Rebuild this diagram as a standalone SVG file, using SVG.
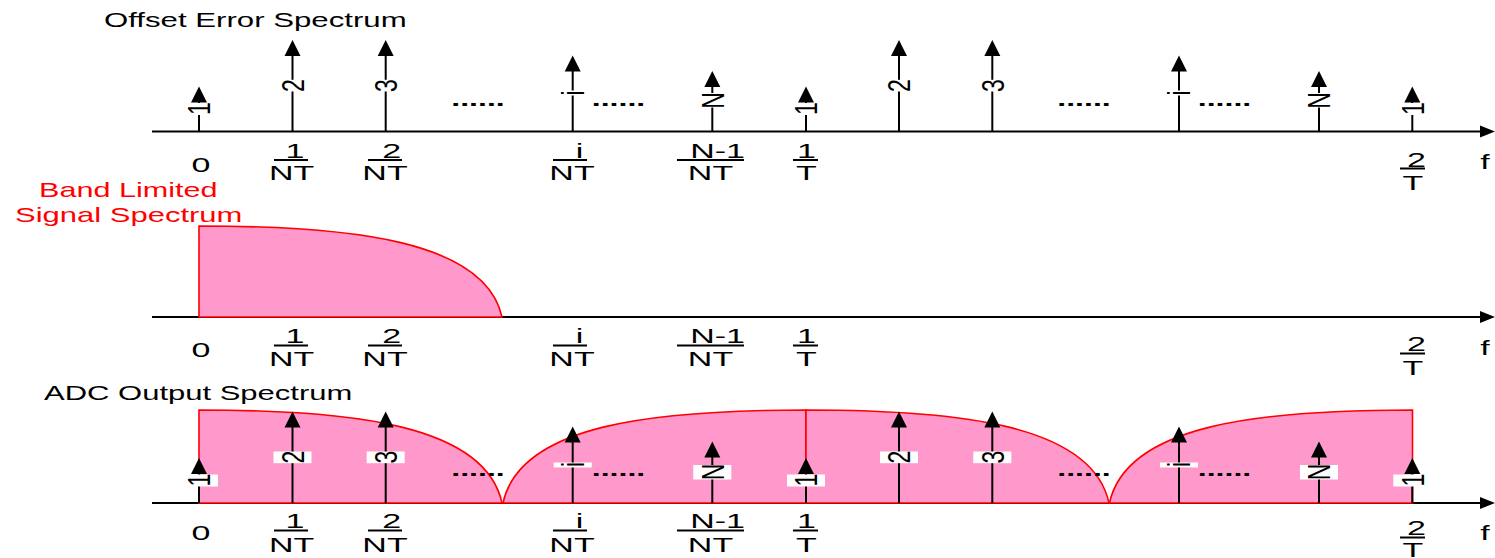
<svg xmlns="http://www.w3.org/2000/svg" width="1495" height="558" viewBox="0 0 1495 558">
<style>
text{font-family:"Liberation Sans",Arial,sans-serif;font-size:20px;fill:#000}
.t{text-anchor:start}
.red{fill:#ff0000}
.c{text-anchor:middle}
.dots{text-anchor:middle;font-weight:bold}
.ax{stroke:#000;stroke-width:2;fill:none}
.stem{stroke:#000;stroke-width:2;fill:none}
.bar{stroke:#000;stroke-width:2}
.band{fill:#ff99cc;stroke:#ff0000;stroke-width:1.6}
.box{fill:#fff}
.rl{font-size:23px;text-anchor:middle}
</style>
<defs>
<path id="ah" d="M0,0 L-8,16 L8,16 Z" fill="#000"/>
<path id="axh" d="M0,0 L-15,-6 L-15,6 Z" fill="#000"/>
</defs>
<rect width="1495" height="558" fill="#fff"/>

<!-- Titles -->
<g id="title1"><text class="t" transform="translate(104,27) scale(1.56,1)">Offset Error Spectrum</text></g>
<g id="title2">
<text class="t red" transform="translate(39,196.5) scale(1.53,1)">Band Limited</text>
<text class="t red" transform="translate(15,221.5) scale(1.55,1)">Signal Spectrum</text>
</g>
<g id="title3"><text class="t" transform="translate(44,400) scale(1.55,1)">ADC Output Spectrum</text></g>

<!-- Axes -->
<g id="connectors">
<line class="ax" x1="152" y1="131.5" x2="1482" y2="131.5"/><use href="#axh" x="1495" y="131.5"/>
<line class="ax" x1="152" y1="317" x2="1482" y2="317"/><use href="#axh" x="1495" y="317"/>
<line class="ax" x1="152" y1="503" x2="1482" y2="503"/><use href="#axh" x="1495" y="503"/>
</g>

<!-- Panel 2 band -->
<g id="signal-band">
<path class="band" d="M199,317 L199,226 C350,226 485,240 502,317 Z"/>
</g>

<!-- Panel 3 bands -->
<g id="adc-bands">
<path class="band" d="M199,503 L199,410 C350,410 485,424 502,503 Z"/>
<path class="band" d="M806,503 L806,410 C655,410 520,424 503,503 Z"/>
<path class="band" d="M806,503 L806,410 C957,410 1092,424 1109,503 Z"/>
<path class="band" d="M1412.5,503 L1412.5,410 C1261.5,410 1126.5,424 1109.5,503 Z"/>
</g>

<!-- Panel 1 impulses -->
<g id="offset-impulses">
<line class="stem" x1="199" y1="131.5" x2="199" y2="100"/><use href="#ah" x="199" y="86.5"/>
<rect class="box" x="180" y="103" width="38" height="12"/>
<text class="rl" transform="translate(210.3,108.5) scale(1.38,1) rotate(-90)">1</text>

<line class="stem" x1="292.5" y1="131.5" x2="292.5" y2="54"/><use href="#ah" x="292.5" y="40"/>
<rect class="box" x="273.5" y="79.8" width="38" height="11.7"/>
<text class="rl" transform="translate(303.8,85.5) scale(1.38,1) rotate(-90)">2</text>

<line class="stem" x1="385.7" y1="131.5" x2="385.7" y2="54"/><use href="#ah" x="385.7" y="40"/>
<rect class="box" x="366.7" y="79.8" width="38" height="11.7"/>
<text class="rl" transform="translate(397,85.5) scale(1.38,1) rotate(-90)">3</text>

<text class="dots" transform="translate(478,106) scale(1.6,1)">......</text>

<line class="stem" x1="572.7" y1="131.5" x2="572.7" y2="70"/><use href="#ah" x="572.7" y="55.5"/>
<rect class="box" x="553.7" y="90.5" width="38" height="5"/>
<text class="rl" transform="translate(584,93) scale(1.38,1) rotate(-90)">i</text>

<text class="dots" transform="translate(618.5,106) scale(1.6,1)">......</text>

<line class="stem" x1="712.3" y1="131.5" x2="712.3" y2="85"/><use href="#ah" x="712.3" y="71"/>
<rect class="box" x="693.3" y="93" width="38" height="14.5"/>
<text class="rl" transform="translate(723.6,100.5) scale(1.38,1) rotate(-90)">N</text>

<line class="stem" x1="806" y1="131.5" x2="806" y2="100"/><use href="#ah" x="806" y="86.5"/>
<rect class="box" x="787" y="103" width="38" height="12"/>
<text class="rl" transform="translate(817.3,108.5) scale(1.38,1) rotate(-90)">1</text>

<line class="stem" x1="899" y1="131.5" x2="899" y2="54"/><use href="#ah" x="899" y="40"/>
<rect class="box" x="880" y="79.8" width="38" height="11.7"/>
<text class="rl" transform="translate(910.3,85.5) scale(1.38,1) rotate(-90)">2</text>

<line class="stem" x1="992.3" y1="131.5" x2="992.3" y2="54"/><use href="#ah" x="992.3" y="40"/>
<rect class="box" x="973.3" y="79.8" width="38" height="11.7"/>
<text class="rl" transform="translate(1003.6,85.5) scale(1.38,1) rotate(-90)">3</text>

<text class="dots" transform="translate(1084,106) scale(1.6,1)">......</text>

<line class="stem" x1="1179" y1="131.5" x2="1179" y2="70"/><use href="#ah" x="1179" y="55.5"/>
<rect class="box" x="1160" y="90.5" width="38" height="5"/>
<text class="rl" transform="translate(1190.3,93) scale(1.38,1) rotate(-90)">i</text>

<text class="dots" transform="translate(1224.5,106) scale(1.6,1)">......</text>

<line class="stem" x1="1319" y1="131.5" x2="1319" y2="85"/><use href="#ah" x="1319" y="71"/>
<rect class="box" x="1300" y="93" width="38" height="14.5"/>
<text class="rl" transform="translate(1330.3,100.5) scale(1.38,1) rotate(-90)">N</text>

<line class="stem" x1="1412.3" y1="131.5" x2="1412.3" y2="100"/><use href="#ah" x="1412.3" y="86.5"/>
<rect class="box" x="1393.3" y="103" width="38" height="12"/>
<text class="rl" transform="translate(1423.6,108.5) scale(1.38,1) rotate(-90)">1</text>
</g>

<!-- Panel 3 impulses -->
<g id="adc-impulses">
<line class="stem" x1="199" y1="503" x2="199" y2="472"/><use href="#ah" x="199" y="458"/>
<rect class="box" x="180" y="474.5" width="38" height="12"/>
<text class="rl" transform="translate(210.3,480) scale(1.38,1) rotate(-90)">1</text>

<line class="stem" x1="292.5" y1="503" x2="292.5" y2="425"/><use href="#ah" x="292.5" y="411.5"/>
<rect class="box" x="273.5" y="451.5" width="38" height="11.7"/>
<text class="rl" transform="translate(303.8,457) scale(1.38,1) rotate(-90)">2</text>

<line class="stem" x1="385.7" y1="503" x2="385.7" y2="425"/><use href="#ah" x="385.7" y="411.5"/>
<rect class="box" x="366.7" y="451.5" width="38" height="11.7"/>
<text class="rl" transform="translate(397,457) scale(1.38,1) rotate(-90)">3</text>

<text class="dots" transform="translate(478,476) scale(1.6,1)">......</text>

<line class="stem" x1="572.7" y1="503" x2="572.7" y2="440"/><use href="#ah" x="572.7" y="426.5"/>
<rect class="box" x="553.7" y="462.5" width="38" height="5"/>
<text class="rl" transform="translate(584,464.5) scale(1.38,1) rotate(-90)">i</text>

<text class="dots" transform="translate(618.5,476) scale(1.6,1)">......</text>

<line class="stem" x1="712.3" y1="503" x2="712.3" y2="455"/><use href="#ah" x="712.3" y="441.5"/>
<rect class="box" x="693.3" y="465" width="38" height="14.5"/>
<text class="rl" transform="translate(723.6,472) scale(1.38,1) rotate(-90)">N</text>

<line class="stem" x1="806" y1="503" x2="806" y2="472"/><use href="#ah" x="806" y="458"/>
<rect class="box" x="787" y="474.5" width="38" height="12"/>
<text class="rl" transform="translate(817.3,480) scale(1.38,1) rotate(-90)">1</text>

<line class="stem" x1="899" y1="503" x2="899" y2="425"/><use href="#ah" x="899" y="411.5"/>
<rect class="box" x="880" y="451.5" width="38" height="11.7"/>
<text class="rl" transform="translate(910.3,457) scale(1.38,1) rotate(-90)">2</text>

<line class="stem" x1="992.3" y1="503" x2="992.3" y2="425"/><use href="#ah" x="992.3" y="411.5"/>
<rect class="box" x="973.3" y="451.5" width="38" height="11.7"/>
<text class="rl" transform="translate(1003.6,457) scale(1.38,1) rotate(-90)">3</text>

<text class="dots" transform="translate(1084,476) scale(1.6,1)">......</text>

<line class="stem" x1="1179" y1="503" x2="1179" y2="440"/><use href="#ah" x="1179" y="426.5"/>
<rect class="box" x="1160" y="462.5" width="38" height="5"/>
<text class="rl" transform="translate(1190.3,464.5) scale(1.38,1) rotate(-90)">i</text>

<text class="dots" transform="translate(1224.5,476) scale(1.6,1)">......</text>

<line class="stem" x1="1319" y1="503" x2="1319" y2="455"/><use href="#ah" x="1319" y="441.5"/>
<rect class="box" x="1300" y="465" width="38" height="14.5"/>
<text class="rl" transform="translate(1330.3,472) scale(1.38,1) rotate(-90)">N</text>

<line class="stem" x1="1412.3" y1="503" x2="1412.3" y2="472"/><use href="#ah" x="1412.3" y="458"/>
<rect class="box" x="1393.3" y="474.5" width="38" height="12"/>
<text class="rl" transform="translate(1423.6,480) scale(1.38,1) rotate(-90)">1</text>
</g>

<!-- Axis labels panel 1 (axis 131.5) -->
<g id="labels1">
<text class="c" transform="translate(201,171.5) scale(1.7,1)">0</text>
<text class="c" transform="translate(295,157.5) scale(1.7,1)">1</text><line class="bar" x1="274" y1="160" x2="308" y2="160"/><text class="c" transform="translate(291.7,180) scale(1.7,1)">NT</text>
<text class="c" transform="translate(391.7,157.5) scale(1.7,1)">2</text><line class="bar" x1="368" y1="160" x2="402" y2="160"/><text class="c" transform="translate(385,180) scale(1.7,1)">NT</text>
<text class="c" transform="translate(579.5,157.5) scale(1.7,1)">i</text><line class="bar" x1="553" y1="160" x2="587" y2="160"/><text class="c" transform="translate(572,180) scale(1.7,1)">NT</text>
<text class="c" transform="translate(717.5,157.5) scale(1.7,1)">N-1</text><line class="bar" x1="677" y1="160" x2="744" y2="160"/><text class="c" transform="translate(710.5,180) scale(1.7,1)">NT</text>
<text class="c" transform="translate(806.5,157.5) scale(1.7,1)">1</text><line class="bar" x1="793" y1="160" x2="818" y2="160"/><text class="c" transform="translate(806.5,180) scale(1.7,1)">T</text>
<text class="c" transform="translate(1416.5,166.5) scale(1.7,1)">2</text><line class="bar" x1="1400" y1="168.5" x2="1425" y2="168.5"/><text class="c" transform="translate(1413,190) scale(1.7,1)">T</text>
<text class="c" transform="translate(1485,168.5) scale(1.7,1)">f</text>
</g>

<!-- Axis labels panel 2 (axis 317) -->
<g id="labels2">
<text class="c" transform="translate(201,357) scale(1.7,1)">0</text>
<text class="c" transform="translate(295,343) scale(1.7,1)">1</text><line class="bar" x1="274" y1="345.5" x2="308" y2="345.5"/><text class="c" transform="translate(291.7,365.5) scale(1.7,1)">NT</text>
<text class="c" transform="translate(391.7,343) scale(1.7,1)">2</text><line class="bar" x1="368" y1="345.5" x2="402" y2="345.5"/><text class="c" transform="translate(385,365.5) scale(1.7,1)">NT</text>
<text class="c" transform="translate(579.5,343) scale(1.7,1)">i</text><line class="bar" x1="553" y1="345.5" x2="587" y2="345.5"/><text class="c" transform="translate(572,365.5) scale(1.7,1)">NT</text>
<text class="c" transform="translate(717.5,343) scale(1.7,1)">N-1</text><line class="bar" x1="677" y1="345.5" x2="744" y2="345.5"/><text class="c" transform="translate(710.5,365.5) scale(1.7,1)">NT</text>
<text class="c" transform="translate(806.5,343) scale(1.7,1)">1</text><line class="bar" x1="793" y1="345.5" x2="818" y2="345.5"/><text class="c" transform="translate(806.5,365.5) scale(1.7,1)">T</text>
<text class="c" transform="translate(1416.5,351) scale(1.7,1)">2</text><line class="bar" x1="1400" y1="353.5" x2="1425" y2="353.5"/><text class="c" transform="translate(1413,375) scale(1.7,1)">T</text>
<text class="c" transform="translate(1485,355) scale(1.7,1)">f</text>
</g>

<!-- Axis labels panel 3 (axis 503) -->
<g id="labels3">
<text class="c" transform="translate(201,540) scale(1.7,1)">0</text>
<text class="c" transform="translate(295,528) scale(1.7,1)">1</text><line class="bar" x1="274" y1="530.5" x2="308" y2="530.5"/><text class="c" transform="translate(291.7,551.5) scale(1.7,1)">NT</text>
<text class="c" transform="translate(391.7,528) scale(1.7,1)">2</text><line class="bar" x1="368" y1="530.5" x2="402" y2="530.5"/><text class="c" transform="translate(385,551.5) scale(1.7,1)">NT</text>
<text class="c" transform="translate(579.5,528) scale(1.7,1)">i</text><line class="bar" x1="553" y1="530.5" x2="587" y2="530.5"/><text class="c" transform="translate(572,551.5) scale(1.7,1)">NT</text>
<text class="c" transform="translate(717.5,528) scale(1.7,1)">N-1</text><line class="bar" x1="677" y1="530.5" x2="744" y2="530.5"/><text class="c" transform="translate(710.5,551.5) scale(1.7,1)">NT</text>
<text class="c" transform="translate(806.5,528) scale(1.7,1)">1</text><line class="bar" x1="793" y1="530.5" x2="818" y2="530.5"/><text class="c" transform="translate(806.5,551.5) scale(1.7,1)">T</text>
<text class="c" transform="translate(1416.5,535) scale(1.7,1)">2</text><line class="bar" x1="1400" y1="537.5" x2="1425" y2="537.5"/><text class="c" transform="translate(1413,556.5) scale(1.7,1)">T</text>
<text class="c" transform="translate(1485,540) scale(1.7,1)">f</text>
</g>
</svg>
